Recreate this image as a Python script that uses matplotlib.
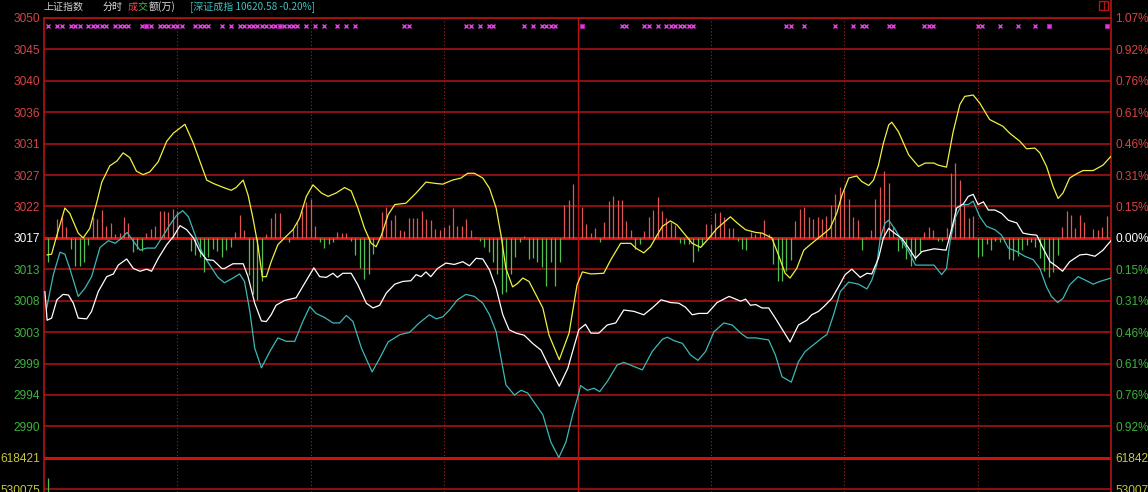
import matplotlib
matplotlib.use('Agg')
import matplotlib.pyplot as plt
from matplotlib import transforms
from matplotlib.patches import Rectangle
from matplotlib.lines import Line2D

# 上证指数 分时 (minute from 9:30, index points)
yellow_t = [0.7, 1.7, 2.9, 4.7, 5.8, 7.7, 8.8, 10.3, 11.9, 13.0,
            14.8, 16.4, 17.8, 19.3, 20.8, 22.3, 23.8, 25.7, 27.6, 29.1,
            31.7, 33.6, 35.1, 36.6, 38.1, 40.0, 42.1, 43.2, 44.8, 45.9,
            47.0, 48.1, 49.1, 50.0, 51.1, 52.6, 54.1, 56.0, 57.5, 59.0,
            60.5, 62.4, 63.9, 65.7, 67.6, 69.1, 70.6, 72.1, 73.6, 74.7,
            75.9, 77.4, 78.9, 81.4, 83.7, 85.9, 88.2, 89.7, 91.9, 93.8,
            95.3, 96.8, 98.7, 100.2, 101.7, 102.8, 103.9, 105.4, 106.5, 107.7,
            109.1, 110.7, 112.2, 113.6, 115.9, 118.1, 119.2, 119.9, 121.1, 123.0,
            125.9, 127.5, 129.7, 132.0, 133.1, 134.9, 136.4, 137.9, 139.1, 140.9,
            142.4, 144.3, 145.8, 147.7, 149.6, 151.4, 154.4, 155.9, 157.8, 160.1,
            161.5, 163.7, 165.2, 166.7, 167.8, 169.3, 170.9, 172.7, 175.0, 176.8,
            178.3, 179.5, 181.0, 182.8, 183.9, 185.5, 186.6, 187.7, 188.8, 190.0,
            190.7, 192.2, 194.5, 196.7, 198.2, 200.2, 201.1, 203.0, 204.5, 206.0,
            207.1, 209.0, 210.5, 212.7, 215.7, 217.2, 219.5, 221.0, 222.9, 224.0,
            225.5, 227.0, 228.1, 229.2, 230.7, 232.2, 233.7, 236.0, 238.2, 240.0]
yellow_p = [3014.5, 3014.6, 3017.4, 3021.4, 3020.6, 3017.7, 3017.0, 3018.4, 3022.3, 3025.2,
            3027.6, 3028.3, 3029.5, 3028.8, 3026.8, 3026.3, 3026.7, 3028.2, 3031.2, 3032.4,
            3033.7, 3030.9, 3028.2, 3025.5, 3025.0, 3024.5, 3024.0, 3024.4, 3025.5, 3023.3,
            3019.9, 3016.0, 3011.3, 3011.3, 3013.5, 3016.0, 3017.0, 3018.2, 3019.9, 3023.1,
            3024.8, 3023.6, 3023.1, 3023.6, 3024.4, 3023.9, 3021.4, 3018.4, 3016.2, 3015.7,
            3017.4, 3020.4, 3021.9, 3022.1, 3023.6, 3025.2, 3025.0, 3024.9, 3025.5, 3025.8,
            3026.5, 3026.5, 3025.8, 3024.3, 3021.4, 3017.4, 3012.5, 3009.8, 3010.3, 3011.1,
            3010.6, 3008.6, 3006.7, 3002.7, 2999.1, 3003.0, 3007.4, 3010.1, 3012.0, 3011.7,
            3011.8, 3013.8, 3016.2, 3016.2, 3015.5, 3014.8, 3015.7, 3017.4, 3018.7, 3019.5,
            3018.9, 3017.4, 3016.2, 3015.6, 3017.0, 3018.4, 3020.1, 3019.2, 3018.2, 3017.8,
            3017.7, 3017.0, 3014.5, 3011.8, 3011.1, 3012.5, 3015.2, 3016.2, 3017.4, 3018.4,
            3020.6, 3023.3, 3025.8, 3026.1, 3025.3, 3024.7, 3025.5, 3027.7, 3030.9, 3033.6,
            3034.0, 3032.6, 3029.2, 3027.5, 3028.0, 3028.0, 3027.7, 3027.4, 3032.6, 3036.6,
            3037.8, 3038.0, 3036.8, 3034.4, 3033.4, 3032.4, 3031.2, 3030.1, 3030.2, 3029.5,
            3027.5, 3024.5, 3022.8, 3023.6, 3025.8, 3026.4, 3026.9, 3026.9, 3027.7, 3029.0]

white_t = [0.2, 0.7, 1.7, 2.9, 4.3, 5.5, 6.6, 7.7, 9.6, 10.7,
           12.2, 14.1, 15.6, 16.7, 18.6, 20.1, 21.6, 23.1, 24.2, 25.7,
           27.6, 29.1, 30.6, 32.1, 33.6, 35.1, 36.6, 38.1, 40.0, 40.6,
           42.5, 44.8, 45.9, 47.4, 48.9, 50.0, 51.1, 52.2, 54.1, 56.7,
           58.6, 60.7, 62.0, 63.5, 65.0, 66.0, 67.2, 69.1, 70.6, 72.5,
           74.0, 75.5, 77.0, 78.9, 80.7, 82.5, 83.7, 84.8, 85.9, 87.0,
           88.5, 90.4, 92.3, 94.2, 95.7, 97.2, 98.7, 100.2, 101.7, 103.2,
           104.6, 106.2, 108.0, 109.9, 111.8, 113.6, 115.9, 117.8, 119.2, 120.3,
           121.8, 123.0, 124.8, 126.7, 128.6, 130.4, 132.7, 134.9, 136.8, 138.8,
           140.9, 142.8, 144.3, 145.8, 147.3, 149.2, 151.4, 154.1, 156.7, 157.8,
           158.9, 160.1, 161.5, 163.0, 164.5, 166.4, 167.8, 169.7, 171.6, 172.7,
           174.2, 175.4, 177.2, 178.7, 180.2, 181.7, 183.6, 185.1, 186.2, 187.7,
           188.8, 190.0, 191.1, 193.0, 194.5, 196.0, 197.5, 200.2, 202.9, 204.2,
           205.3, 206.8, 207.9, 209.0, 210.1, 211.3, 212.4, 213.9, 215.4, 216.9,
           218.8, 220.2, 221.8, 223.3, 224.7, 226.3, 227.8, 229.1, 230.7, 233.0,
           234.5, 236.4, 238.2, 240.0]
white_p = [3009.1, 3004.9, 3005.2, 3007.9, 3008.7, 3008.6, 3007.4, 3005.2, 3005.1, 3006.2,
           3009.1, 3011.3, 3011.7, 3013.0, 3013.9, 3012.5, 3012.1, 3012.4, 3012.1, 3014.0,
           3016.0, 3017.2, 3018.8, 3018.2, 3017.0, 3015.0, 3013.8, 3013.7, 3012.5, 3012.5,
           3013.2, 3013.2, 3011.3, 3007.4, 3004.8, 3004.7, 3005.7, 3007.1, 3007.8, 3008.2,
           3010.3, 3012.6, 3011.3, 3011.2, 3011.8, 3011.2, 3011.8, 3011.8, 3010.1, 3007.4,
           3006.7, 3007.1, 3008.9, 3010.2, 3010.6, 3010.7, 3011.6, 3011.3, 3012.0, 3011.3,
           3012.5, 3013.3, 3013.1, 3013.5, 3012.9, 3014.0, 3013.9, 3012.3, 3009.6, 3005.7,
           3003.5, 3003.0, 3002.7, 3001.5, 3000.5, 2998.1, 2995.2, 2997.8, 3001.0, 3003.5,
           3004.3, 3003.0, 3003.0, 3004.2, 3004.5, 3006.4, 3006.2, 3005.7, 3006.7, 3007.9,
           3007.5, 3007.4, 3006.8, 3005.7, 3005.9, 3005.9, 3007.5, 3008.4, 3007.7, 3008.0,
           3007.1, 3007.2, 3006.7, 3006.7, 3005.2, 3003.2, 3001.7, 3004.2, 3004.9, 3005.7,
           3006.2, 3006.9, 3008.1, 3009.8, 3011.6, 3012.4, 3011.2, 3011.8, 3011.7, 3014.0,
           3017.0, 3018.4, 3017.8, 3016.9, 3015.5, 3014.0, 3015.0, 3015.4, 3015.2, 3018.4,
           3021.4, 3022.0, 3023.1, 3023.4, 3021.9, 3022.3, 3021.1, 3021.1, 3020.6, 3019.6,
           3019.2, 3017.7, 3017.5, 3017.4, 3015.5, 3013.5, 3012.8, 3012.1, 3013.5, 3014.5,
           3014.6, 3014.3, 3015.2, 3016.6]

# 深证成指 overlay, drawn on the same percent scale
cyan_t = [0.6, 2.1, 3.6, 4.7, 5.8, 7.7, 9.2, 10.7, 12.6, 14.5,
          16.0, 17.5, 18.7, 20.1, 21.6, 23.1, 25.0, 26.5, 28.3, 29.8,
          31.2, 32.5, 34.0, 35.8, 37.3, 39.1, 40.6, 42.5, 44.0, 45.1,
          46.3, 47.4, 48.9, 50.8, 52.6, 54.5, 56.4, 58.2, 59.8, 61.2,
          63.1, 65.0, 66.5, 68.0, 69.5, 71.4, 73.8, 75.5, 77.4, 80.1,
          82.2, 84.4, 86.7, 88.2, 89.7, 91.2, 93.0, 94.9, 96.8, 98.7,
          100.2, 101.7, 102.8, 103.9, 105.8, 107.3, 108.8, 110.7, 112.2, 114.0,
          115.8, 117.4, 118.9, 120.1, 120.7, 122.2, 123.7, 125.0, 126.7, 128.9,
          130.4, 132.7, 134.6, 136.8, 139.1, 140.2, 141.7, 143.6, 145.4, 147.1,
          148.8, 150.7, 152.9, 154.8, 156.7, 158.2, 160.1, 163.0, 164.5, 166.0,
          168.1, 169.7, 171.2, 173.1, 175.0, 176.1, 177.6, 179.1, 181.0, 183.2,
          185.1, 186.2, 187.3, 188.1, 189.2, 190.0, 191.5, 193.0, 194.5, 196.0,
          198.2, 200.2, 201.9, 203.0, 203.8, 204.9, 206.4, 207.9, 209.0, 210.5,
          212.0, 213.9, 215.4, 216.9, 218.8, 220.6, 222.5, 224.0, 225.5, 226.6,
          228.0, 229.2, 230.7, 232.6, 234.5, 236.0, 237.5, 240.0]
cyan_p = [3006.7, 3011.6, 3014.9, 3014.6, 3012.5, 3008.4, 3009.6, 3011.3, 3015.6, 3016.6,
          3016.2, 3017.0, 3017.8, 3016.5, 3015.2, 3015.5, 3015.5, 3017.0, 3018.9, 3020.3,
          3021.0, 3020.1, 3017.4, 3014.5, 3013.0, 3011.2, 3010.4, 3011.1, 3011.7, 3010.6,
          3006.2, 3000.8, 2997.9, 3000.3, 3002.3, 3001.8, 3001.8, 3004.7, 3006.9, 3005.9,
          3005.3, 3004.5, 3004.5, 3005.6, 3004.7, 3000.8, 2997.3, 2999.3, 3001.7, 3002.8,
          3003.1, 3004.5, 3005.7, 3005.1, 3005.4, 3006.4, 3007.9, 3008.7, 3008.4, 3007.4,
          3005.7, 3003.2, 2999.3, 2995.4, 2993.9, 2994.6, 2994.2, 2992.4, 2991.0, 2987.0,
          2984.7, 2987.0, 2991.0, 2993.7, 2995.3, 2994.6, 2994.9, 2994.4, 2995.9, 2998.3,
          2998.7, 2998.1, 2997.6, 3000.3, 3002.1, 3002.4, 3001.9, 3001.5, 2999.8, 2999.0,
          3000.3, 3003.2, 3004.5, 3004.2, 3003.0, 3002.3, 3002.3, 3002.0, 2999.8, 2996.6,
          2995.8, 2998.8, 3000.3, 3001.3, 3002.3, 3002.8, 3005.7, 3009.1, 3010.5, 3010.2,
          3009.5, 3010.8, 3013.0, 3017.0, 3019.2, 3019.6, 3018.2, 3016.5, 3015.0, 3013.0,
          3013.0, 3013.0, 3011.6, 3012.5, 3016.5, 3019.9, 3021.9, 3021.9, 3022.4, 3020.1,
          3018.7, 3018.2, 3017.4, 3015.5, 3015.0, 3014.3, 3013.8, 3012.5, 3009.8, 3008.4,
          3007.5, 3008.1, 3010.1, 3011.3, 3010.7, 3010.2, 3010.6, 3011.1]

# red/green lead bars (minute, points from previous close)
lead_bars = [(1, -3.6), (3, 2.8), (4, 3.0), (5, 1.6), (6, -1.6), (7, -4.2), (8, -4.1), (9, -3.6),
             (10, -1.0), (11, 3.0), (12, 2.8), (13, 4.1), (14, 1.8), (15, 2.2), (16, 0.6), (17, 0.7),
             (18, 3.0), (19, 2.2), (20, -2.1), (21, -1.6), (22, -1.9), (23, 0.7), (24, 1.3), (25, 1.7),
             (26, 4.0), (27, 3.9), (28, 3.8), (29, 4.3), (30, 3.9), (33, -1.9), (34, -2.5), (35, -2.8),
             (36, -5.0), (37, -2.8), (38, -1.6), (39, -1.9), (40, -2.8), (41, -1.8), (42, -1.3), (43, 0.8),
             (44, 3.4), (45, 1.1), (46, -5.5), (47, -8.2), (48, -9.2), (49, -6.4), (50, 0.5), (51, 2.9),
             (52, 3.6), (53, 3.6), (55, -0.6), (56, 1.3), (57, 2.3), (58, 4.0), (59, 5.3), (60, 5.7),
             (61, 1.8), (62, -0.6), (63, -1.5), (64, -0.9), (65, -0.6), (66, 0.8), (67, 0.7), (68, 0.7),
             (69, -0.5), (70, -2.5), (71, -4.4), (72, -6.0), (73, -5.3), (74, -2.4), (76, 3.8), (77, 4.5),
             (78, 2.6), (79, 3.4), (80, 1.2), (81, 1.0), (82, 2.9), (83, 2.9), (84, 2.9), (85, 4.0),
             (86, 2.8), (87, 2.6), (88, 1.3), (89, 1.1), (90, 1.6), (91, 1.9), (92, 4.4), (93, 1.8),
             (94, 1.8), (95, 2.8), (96, 1.2), (97, 0.2), (98, -0.4), (99, -1.3), (100, -2.1), (101, -3.6),
             (102, -5.3), (103, -8.2), (104, -8.0), (105, -5.3), (106, -2.8), (107, -0.6), (108, 0.3),
             (109, -3.1), (110, -2.9), (111, -3.6), (112, -4.3), (113, -7.0), (114, -3.6), (115, -7.0),
             (116, -3.6), (117, 4.9), (118, 5.6), (119, 7.9), (121, 4.6), (122, 2.1), (123, 0.7),
             (124, 1.5), (125, -0.6), (126, 2.4), (127, 5.4), (128, 6.1), (129, 5.6), (130, 5.6),
             (131, 2.5), (132, 1.1), (133, -1.6), (134, -0.9), (135, 1.0), (136, 3.1), (137, 4.1),
             (138, 6.0), (139, 3.9), (140, 2.9), (141, 2.3), (142, 1.9), (143, -0.8), (144, -0.9),
             (145, -0.9), (146, -3.6), (147, -1.9), (148, -1.1), (149, 2.1), (150, 2.0), (151, 3.6),
             (152, 3.8), (153, 3.0), (154, 1.5), (155, 1.5), (156, -0.4), (157, -1.6), (158, -1.8),
             (159, 0.8), (160, 0.6), (161, 0.8), (162, 2.6), (163, 0.5), (164, -3.9), (165, -6.4),
             (166, -6.3), (167, -4.8), (168, -3.2), (169, 2.5), (170, 4.3), (171, 4.5), (172, 3.1),
             (173, 2.8), (174, 3.0), (175, 2.8), (176, 3.2), (177, 4.8), (178, 6.5), (179, 7.5),
             (180, 7.0), (181, 5.7), (182, 3.1), (183, 2.6), (184, -1.8), (185, 0.1), (186, 1.1),
             (187, 5.7), (188, 7.5), (189, 9.8), (190, 8.0), (191, 1.6), (192, -1.9), (193, -1.5),
             (194, -3.1), (195, -4.1), (196, -3.3), (197, -2.1), (198, 0.9), (199, 1.6), (200, 1.1),
             (201, -0.4), (202, -0.5), (203, 1.5), (204, 9.5), (205, 11.0), (206, 8.5), (207, 5.0),
             (208, 2.9), (209, 3.2), (210, -2.8), (211, -2.6), (212, -0.9), (213, -1.8), (214, -0.4),
             (215, -0.6), (216, -0.4), (217, -3.1), (218, -3.2), (219, -2.6), (220, -1.8), (221, -1.1),
             (222, -0.6), (223, -1.3), (224, -2.9), (225, -4.8), (226, -5.7), (227, -5.0), (228, -2.5),
             (229, 1.6), (230, 4.0), (231, 3.4), (232, 1.5), (233, 3.3), (234, 2.3), (236, 1.3),
             (237, 1.1), (238, 1.6), (239, 3.2)]

# magenta signal marks along the top
mark_x = [1, 3, 4, 6, 7, 8, 10, 11, 12, 13, 14, 16, 17, 18, 19, 22, 24, 26, 27, 28, 29, 30, 31,
          34, 35, 36, 37, 40, 42, 44, 45, 46, 47, 48, 49, 50, 51, 52, 54, 55, 56, 57, 59, 61, 63,
          66, 68, 70, 81, 82, 95, 96, 98, 100, 101, 108, 110, 112, 113, 114, 115, 130, 131, 135,
          136, 138, 140, 141, 142, 143, 144, 145, 146, 167, 168, 171, 178, 182, 184, 185, 190, 191,
          198, 199, 200, 210, 211, 215, 219, 223]
mark_sq = [23, 53, 121, 226, 239]

vol_t = [1]
vol_v = [561000]

pre_close = 3017.0
step = 4.6176  # one grid row
levels = list(range(7, -9, -1))
left_labels = ['3050', '3045', '3040', '3036', '3031', '3027', '3022', '3017',
               '3013', '3008', '3003', '2999', '2994', '2990', '618421', '530075']
right_labels = ['1.07%', '0.92%', '0.76%', '0.61%', '0.46%', '0.31%', '0.15%', '0.00%',
                '0.15%', '0.31%', '0.46%', '0.61%', '0.76%', '0.92%', '618421', '530075']
vol_base, vol_step = 530075, 88346

RED = '#b41414'
TXT_RED, TXT_GREEN, TXT_YEL = '#d84444', '#3cb43c', '#c8c83c'

W, H = 1148, 492
fig = plt.figure(figsize=(W / 100, H / 100), dpi=100, facecolor='black')
ax = fig.add_axes([44 / W, 0, 1067 / W, 474 / H], facecolor='black')

ylo = pre_close - 8 * step - 0.41
yhi = pre_close + 7 * step
ax.set_xlim(0, 240)
ax.set_ylim(ylo, yhi)

# grid
for k in levels:
    y = pre_close + k * step
    if k == 0:
        ax.axhline(y, color='#e01010', lw=2.2, zorder=1)
    elif k == -7:
        ax.axhline(y, color='#d01010', lw=2.2, zorder=1)
    else:
        ax.axhline(y, color=RED, lw=1.1, zorder=1)
for m in [30, 60, 90, 150, 180, 210]:
    ax.axvline(m, color='#a02020', lw=0.8, ls=(0, (1, 2)), zorder=1)
ax.axvline(120, color=RED, lw=1.0, zorder=1)

# lead bars
for m, v in lead_bars:
    c = '#e05555' if v > 0 else '#50c050'
    ax.vlines(m, pre_close, pre_close + v, color=c, lw=0.9, zorder=2)

# volume (only top of the panel is visible)
for m, v in zip(vol_t, vol_v):
    yv = pre_close - 8 * step + (v - vol_base) / vol_step * step
    ax.vlines(m, ylo, yv, color='#50c050', lw=0.9, zorder=2)

ax.plot(cyan_t, cyan_p, color='#3cb8b8', lw=0.9, zorder=3)
ax.plot(white_t, white_p, color='white', lw=0.9, zorder=4)
ax.plot(yellow_t, yellow_p, color='#f0f040', lw=0.9, zorder=5)

tr = transforms.blended_transform_factory(ax.transData, ax.transAxes)
ax.plot(mark_x, [0.983] * len(mark_x), ls='none', marker='x', ms=3, mew=1,
        color='#e040e0', transform=tr, zorder=6)
ax.plot(mark_sq, [0.983] * len(mark_sq), ls='none', marker='s', ms=3, mew=0.8,
        mfc='#e040e0', mec='#a020a0', transform=tr, zorder=6)

for s in ['left', 'right', 'top']:
    ax.spines[s].set_color(RED)
    ax.spines[s].set_linewidth(1.2)
ax.spines['bottom'].set_visible(False)
ax.set_xticks([])

def label_color(k):
    if k > 0:
        return TXT_RED
    if k == 0:
        return 'white'
    if k >= -6:
        return TXT_GREEN
    return TXT_YEL

ticks = [pre_close + k * step for k in levels]
ax.set_yticks(ticks)
ax.set_yticklabels(left_labels, fontfamily='Liberation Sans', fontsize=8.6)
ax.tick_params(axis='y', length=0, pad=3)
for lab, k in zip(ax.get_yticklabels(), levels):
    lab.set_color(label_color(k))

ax2 = ax.twinx()
ax2.set_ylim(ylo, yhi)
ax2.set_yticks(ticks)
ax2.set_yticklabels(right_labels, fontfamily='Liberation Sans', fontsize=8.6)
ax2.tick_params(axis='y', length=0, pad=3)
for lab, k in zip(ax2.get_yticklabels(), levels):
    lab.set_color(label_color(k))
for s in ax2.spines.values():
    s.set_visible(False)

# header
cjk = ['Noto Sans CJK SC', 'DejaVu Sans']
hy = 1 - 7 / H
hs = 7.2
fig.text(44 / W, hy, '上证指数', color='#d0d0d0', fontsize=hs, family=cjk, va='center')
fig.text(103 / W, hy, '分时', color='#e0e0e0', fontsize=hs, family=cjk, va='center')
fig.text(128 / W, hy, '成', color='#ff4040', fontsize=hs, family=cjk, va='center')
fig.text(138 / W, hy, '交', color='#40c040', fontsize=hs, family=cjk, va='center')
fig.text(148.5 / W, hy, '额(万)', color='#e0e0e0', fontsize=hs, family=cjk, va='center')
fig.text(190 / W, hy, '[深证成指 10620.58 -0.20%]', color='#40c0c0', fontsize=hs,
         family=cjk, va='center')

# small panel button top right and the right border above the plot
fig.add_artist(Rectangle((1099 / W, 1 - 10 / H), 9 / W, 9 / H, transform=fig.transFigure,
                         fill=False, ec=RED, lw=1))
fig.add_artist(Line2D([1103.5 / W, 1103.5 / W], [1 - 10 / H, 1 - 1 / H],
                      transform=fig.transFigure, color=RED, lw=0.8))
fig.add_artist(Line2D([1111 / W, 1111 / W], [1 - 18 / H, 1], transform=fig.transFigure,
                      color=RED, lw=1.2))

fig.savefig('out.png', dpi=100, facecolor='black')
